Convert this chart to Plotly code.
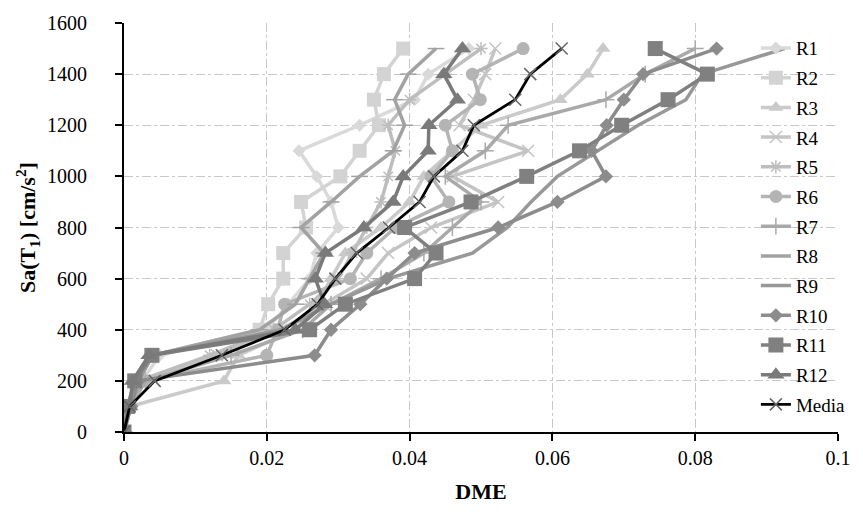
import plotly.graph_objects as go

sa = [0, 100, 200, 300, 400, 500, 600, 700, 800, 900, 1000, 1100, 1200, 1300, 1400, 1500]

R1 = [0, 0.0006, 0.0025, 0.005, 0.020, 0.023, 0.026, 0.027, 0.030, 0.029, 0.027, 0.0245, 0.033, 0.0407, 0.0426, 0.0483]
R2 = [0, 0.0005, 0.0015, 0.004, 0.019, 0.0202, 0.0223, 0.0223, 0.0255, 0.0248, 0.0303, 0.033, 0.0357, 0.035, 0.0364, 0.0391]
R3 = [0, 0.0008, 0.014, 0.016, 0.024, 0.027, 0.029, 0.031, 0.036, 0.040, 0.042, 0.046, 0.050, 0.0611, 0.0649, 0.0671]
R4 = [0, 0.0006, 0.003, 0.013, 0.022, 0.028, 0.034, 0.037, 0.043, 0.0524, 0.046, 0.0566, 0.047, 0.049, 0.0506, 0.052]
R5 = [0, 0.0005, 0.002, 0.012, 0.021, 0.026, 0.030, 0.032, 0.034, 0.036, 0.037, 0.038, 0.037, 0.040, 0.045, 0.050]
R6 = [0, 0.001, 0.003, 0.020, 0.0215, 0.0225, 0.0317, 0.034, 0.038, 0.0455, 0.043, 0.046, 0.045, 0.0499, 0.0488, 0.0559]
R7 = [0, 0.0007, 0.003, 0.015, 0.025, 0.029, 0.036, 0.042, 0.046, 0.050, 0.045, 0.0506, 0.0538, 0.0675, 0.073, 0.080]
R8 = [0, 0.0005, 0.002, 0.004, 0.019, 0.024, 0.026, 0.028, 0.0248, 0.029, 0.033, 0.0377, 0.0393, 0.0379, 0.0398, 0.0437]
R9 = [0, 0.0005, 0.002, 0.004, 0.022, 0.029, 0.037, 0.0488, 0.0537, 0.057, 0.0607, 0.0663, 0.072, 0.0787, 0.081, 0.0925]
R10 = [0, 0.001, 0.002, 0.0267, 0.029, 0.0331, 0.0368, 0.0407, 0.0524, 0.0607, 0.0675, 0.0655, 0.0676, 0.0700, 0.0727, 0.083]
R11 = [0, 0.0005, 0.0015, 0.0039, 0.026, 0.031, 0.0407, 0.0437, 0.0393, 0.0486, 0.0564, 0.0638, 0.0697, 0.0762, 0.0817, 0.0744]
R12 = [0, 0.0008, 0.0012, 0.0035, 0.024, 0.0281, 0.0268, 0.0282, 0.0336, 0.0377, 0.0391, 0.0426, 0.0427, 0.0467, 0.0448, 0.0474]
Media = [0, 0.0008, 0.0043, 0.0137, 0.0225, 0.0271, 0.0296, 0.0326, 0.0371, 0.0414, 0.0434, 0.0474, 0.049, 0.0548, 0.0569, 0.0613]

names = ["R1", "R2", "R3", "R4", "R5", "R6", "R7", "R8", "R9", "R10", "R11", "R12", "Media"]
series = [R1, R2, R3, R4, R5, R6, R7, R8, R9, R10, R11, R12, Media]
colors = ["#d9d9d9", "#d3d3d3", "#cacaca", "#c4c4c4", "#bdbdbd", "#b4b4b4",
          "#a9a9a9", "#a2a2a2", "#989898", "#8c8c8c", "#808080", "#7a7a7a", "#000000"]
symbols = ["diamond", "square", "triangle-up", "x-thin", "asterisk", "circle",
           "cross-thin", "line-ew", "line-ew", "diamond", "square", "triangle-up", "x-thin"]
msizes = [10, 14, 13, 12, 11, 13, 12, 12, 1, 11, 15, 15, 12]

FONT = "Liberation Serif, Times New Roman, serif"

fig = go.Figure()
for i, (n, s) in enumerate(zip(names, series)):
    c = colors[i]
    sym = symbols[i]
    open_sym = sym in ("x-thin", "asterisk", "cross-thin", "line-ew")
    mcol = "#666666" if n == "Media" else c
    fig.add_trace(go.Scatter(
        x=s, y=sa, name=n, mode="lines+markers", legendgroup=n,
        line=dict(color=c, width=2.8 if n == "Media" else 3.5),
        marker=dict(symbol=sym, size=msizes[i], color=mcol,
                    line=dict(color=mcol, width=1.5 if open_sym else 0)),
    ))

axis_font = dict(family=FONT, size=20, color="#000")
fig.update_layout(
    width=863, height=512,
    margin=dict(l=124, r=16, t=18, b=79),
    paper_bgcolor="white", plot_bgcolor="white",
    font=dict(family=FONT, color="#000"),
    showlegend=True,
    legend=dict(x=0.885, y=0.985, xanchor="left", yanchor="top",
                bgcolor="rgba(0,0,0,0)", font=dict(family=FONT, size=19),
                tracegroupgap=2, itemwidth=30),
    xaxis=dict(range=[0, 0.1], dtick=0.02, tickformat="~g",
               showline=True, linecolor="#000", linewidth=2,
               ticks="outside", ticklen=7, tickwidth=2, tickcolor="#000",
               showgrid=True, gridcolor="#c8c8c8", griddash="dashdot", gridwidth=1,
               zeroline=False, tickfont=axis_font,
               title=dict(text="<b>DME</b>", font=dict(family=FONT, size=22), standoff=16)),
    yaxis=dict(range=[0, 1600], dtick=200,
               showline=True, linecolor="#000", linewidth=2,
               ticks="outside", ticklen=7, tickwidth=2, tickcolor="#000",
               showgrid=True, gridcolor="#c8c8c8", griddash="dashdot", gridwidth=1,
               zeroline=False, tickfont=axis_font, ticklabelstandoff=24,
               title=dict(text="<b>Sa(T<sub>1</sub>) [cm/s<sup>2</sup>]</b>",
                          font=dict(family=FONT, size=22), standoff=5)),
)
fig.write_html("out.html")
